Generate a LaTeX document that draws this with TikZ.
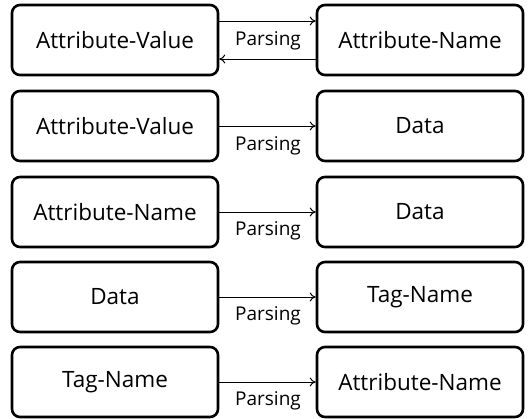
\documentclass[tikz,border=0pt]{standalone}
\usepackage{fontspec}
\setmainfont{Open Sans}
\usetikzlibrary{arrows.meta}
\begin{document}
\begin{tikzpicture}[x=1pt,y=-1pt,
  box/.style={draw=black, line width=2.6pt, rounded corners=8pt, minimum width=206pt, minimum height=70pt, inner sep=0pt, font=\fontsize{22.5}{25}\selectfont},
  conn/.style={-{To[length=6pt,width=9pt]}, line width=1pt},
  lbl/.style={font=\fontsize{19}{21}\selectfont, inner sep=0pt}]
\useasboundingbox (0,0) rectangle (529,418);
\node[box] (l1) at (115,40) {Attribute-Value};
\node[box] (r1) at (420,40) {Attribute-Name};
\node[box] (l2) at (115,126) {Attribute-Value};
\node[box] (r2) at (420,126) {Data};
\node[box] (l3) at (115,212) {Attribute-Name};
\node[box] (r3) at (420,212) {Data};
\node[box] (l4) at (115,297) {Data};
\node[box] (r4) at (420,297) {Tag-Name};
\node[box] (l5) at (115,382) {Tag-Name};
\node[box] (r5) at (420,382) {Attribute-Name};
\draw[conn] ([yshift=19pt]l1.east) -- ([yshift=19pt]r1.west);
\draw[conn] ([yshift=-19pt]r1.west) -- ([yshift=-19pt]l1.east);
\node[lbl] (p1) at (268,41) {Parsing};
\draw[conn] (l2.east) -- (r2.west);
\node[lbl] (p2) at (268,146) {Parsing};
\draw[conn] (l3.east) -- (r3.west);
\node[lbl] (p3) at (268,231) {Parsing};
\draw[conn] (l4.east) -- (r4.west);
\node[lbl] (p4) at (268,316) {Parsing};
\draw[conn] (l5.east) -- (r5.west);
\node[lbl] (p5) at (268,401) {Parsing};
\end{tikzpicture}
\end{document}
